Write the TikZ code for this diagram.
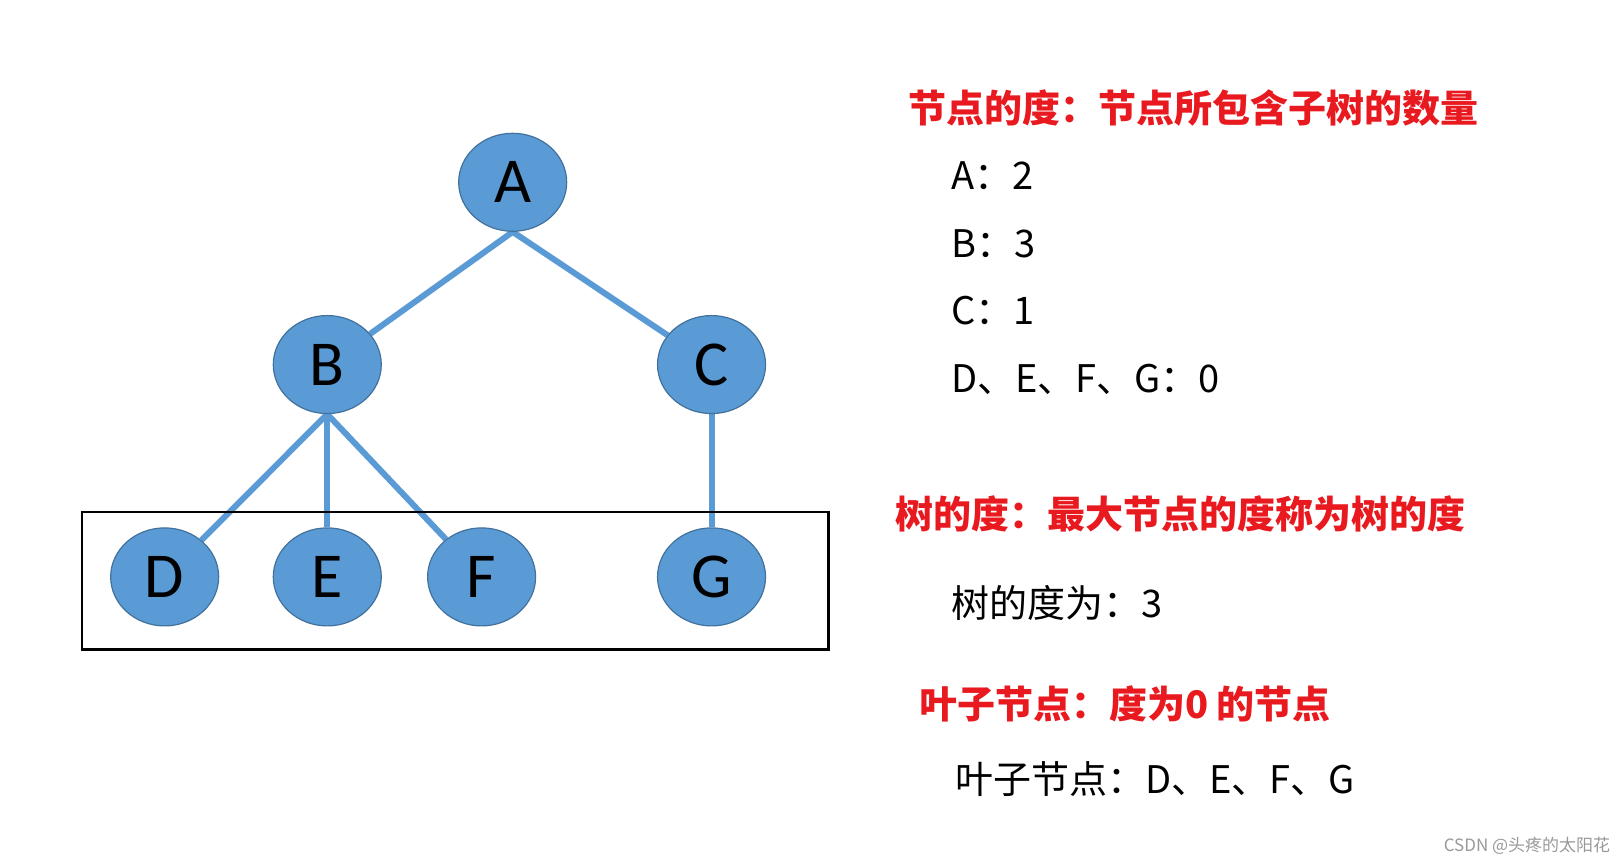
\documentclass[tikz,border=0pt]{standalone}
\usepackage{fontspec}
\setmainfont{Carlito}
\newfontfamily\cjk{Noto Sans CJK SC}
\usetikzlibrary{backgrounds,shapes.geometric}
\definecolor{nodefill}{HTML}{5B9BD5}
\definecolor{nodeline}{HTML}{41719C}
\definecolor{hred}{HTML}{E8191F}
\begin{document}
\begin{tikzpicture}[x=0.5179pt,y=-0.5179pt,
  tn/.style={ellipse,draw=nodeline,line width=0.6pt,fill=nodefill,minimum width=54pt,minimum height=49pt,inner sep=0pt,font=\fontsize{32}{32}\selectfont},
  ed/.style={draw=nodefill,line width=3pt},
  head/.style={anchor=west,text=hred,font=\cjk\bfseries\fontsize{19}{19}\selectfont,inner sep=0pt},
  body/.style={anchor=west,font=\cjk\fontsize{19}{19}\selectfont,inner sep=0pt}]
\useasboundingbox (0,0) rectangle (1568,835);
\node[tn] (A) at (495,176) {A};
\node[tn] (B) at (316,352) {B};
\node[tn] (C) at (687,352) {C};
\node[tn] (D) at (159,557) {D};
\node[tn] (E) at (316,557) {E};
\node[tn] (F) at (465,557) {F};
\node[tn] (G) at (687,557) {G};
\begin{scope}[on background layer]
\draw[ed] (A.south) -- (B);
\draw[ed] (A.south) -- (C);
\draw[ed] (B.south) -- (D);
\draw[ed] (B.south) -- (E.north);
\draw[ed] (B.south) -- (F);
\draw[ed] (C.south) -- (G.north);
\draw[line width=1.1pt] (79,494) rectangle (800,627);
\end{scope}
\node[head] (h1) at (877,104) {节点的度：节点所包含子树的数量};
\node[body] (l1) at (918,170) {A：2};
\node[body] (l2) at (918,235) {B：3};
\node[body] (l3) at (918,300) {C：1};
\node[body] (l4) at (918,366) {D、E、F、G：0};
\node[head] (h2) at (864,496) {树的度：最大节点的度称为树的度};
\node[body] (l5) at (918,582) {树的度为：3};
\node[head] (h3) at (887,680) {叶子节点：度为0 的节点};
\node[body] (l6) at (922,752) {叶子节点：D、E、F、G};
\node[anchor=east,text=gray!80,font=\cjk\fontsize{8.5}{8.5}\selectfont,inner sep=0pt] (wm) at (1555,817) {CSDN @头疼的太阳花};
\end{tikzpicture}
\end{document}
